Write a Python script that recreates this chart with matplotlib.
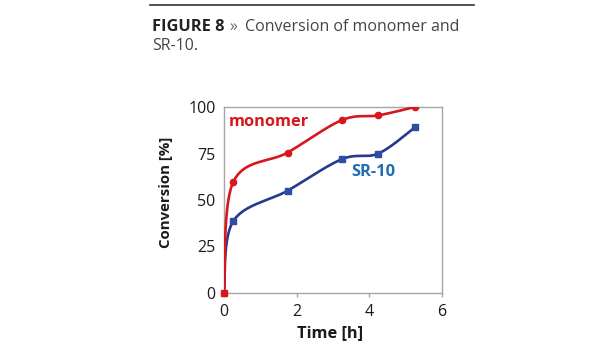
import numpy as np
import matplotlib
matplotlib.use("Agg")
import matplotlib.pyplot as plt
from matplotlib.lines import Line2D

plt.rcParams['font.family'] = ['Open Sans', 'DejaVu Sans']

time_h = [0, 0.25, 1.75, 3.25, 4.25, 5.25]
monomer = [0, 59.5, 75.5, 93, 95.5, 100]
sr10 = [0, 38.5, 55, 72, 75, 89]
x_ticks = [0, 2, 4, 6]
y_ticks = [0, 25, 50, 75, 100]

RED = '#d7161d'
NAVY = '#25398f'
BLUE_LBL = '#1f6db3'
SQ_BLUE = '#2c4da3'

W, H = 615, 350
fig = plt.figure(figsize=(W / 100, H / 100), dpi=100)

ax_l, ax_r, ax_t, ax_b = 224, 442, 107, 293
ax = fig.add_axes([ax_l / W, 1 - ax_b / H, (ax_r - ax_l) / W, (ax_b - ax_t) / H])
ax.set_xlim(0, 6)
ax.set_ylim(0, 100)


def smooth(xs, ys, sx, sy, n=40):
    # Excel-like Bezier smoothing in normalized axis space
    P = np.column_stack([np.asarray(xs, float) / sx, np.asarray(ys, float) / sy])
    out = []
    m = len(P)
    for i in range(m - 1):
        p0 = P[i - 1] if i > 0 else P[i]
        p1, p2 = P[i], P[i + 1]
        p3 = P[i + 2] if i + 2 < m else P[i + 1]
        c1 = p1 + (p2 - p0) / 6
        c2 = p2 - (p3 - p1) / 6
        t = np.linspace(0, 1, n)[:, None]
        seg = ((1 - t) ** 3) * p1 + 3 * ((1 - t) ** 2) * t * c1 + 3 * (1 - t) * t ** 2 * c2 + t ** 3 * p2
        out.append(seg if i == 0 else seg[1:])
    S = np.vstack(out)
    return S[:, 0] * sx, S[:, 1] * sy

sx, sy = 6.0, 100.0 * (ax_r - ax_l) / (ax_b - ax_t)
bx, by = smooth(time_h, sr10, sx, sy)
rx, ry = smooth(time_h, monomer, sx, sy)
ax.plot(bx, by, color=NAVY, lw=1.9, zorder=3)
ax.plot(time_h[1:], sr10[1:], ls='none', marker='s', ms=4.5, color=SQ_BLUE, zorder=4)
ax.plot(rx, ry, color=RED, lw=1.9, zorder=5)
ax.plot(time_h[1:], monomer[1:], ls='none', marker='o', ms=4.5, color=RED, zorder=6)
ax.plot(time_h[:1], monomer[:1], ls='none', marker='s', ms=4.5, color=RED, zorder=6, clip_on=False)

ax.set_xticks(x_ticks)
ax.set_yticks(y_ticks)
for s in ax.spines.values():
    s.set_color('#a6a6a6')
    s.set_linewidth(1.0)
ax.tick_params(axis='both', colors='#a6a6a6', labelcolor='#1a1a1a', labelsize=11.5,
               length=3, width=1.0, direction='out')
ax.tick_params(axis='y', length=0, pad=6)
ax.tick_params(axis='x', pad=5)

ax.set_xlabel('Time [h]', fontsize=11.8, fontweight='bold', color='#1a1a1a')
ax.xaxis.set_label_coords(0.485, -0.17)
ax.set_ylabel('Conversion [%]', fontsize=10.8, fontweight='bold', color='#1a1a1a')
ax.yaxis.set_label_coords(-0.235, 0.54)

ax.text(0.12, 92, 'monomer', color=RED, fontsize=11.8, fontweight='bold', va='center', ha='left')
ax.text(3.5, 65, 'SR-10', color=BLUE_LBL, fontsize=11.8, fontweight='bold', va='center', ha='left')

# header
fig.add_artist(Line2D([150 / W, 474 / W], [1 - 4.5 / H, 1 - 4.5 / H], color='#333333', lw=1.2))
fig.text(152 / W, 1 - 27 / H, 'FIGURE 8', fontsize=11.8, fontweight='bold', color='#222222', va='center')
fig.text(229 / W, 1 - 27 / H, '»', fontsize=11.5, color='#666666', va='center')
fig.text(245 / W, 1 - 27 / H, 'Conversion of monomer and', fontsize=11.5, color='#444444', va='center')
fig.text(152 / W, 1 - 46 / H, 'SR-10.', fontsize=11.5, color='#444444', va='center')

fig.savefig('out.png', dpi=100)
